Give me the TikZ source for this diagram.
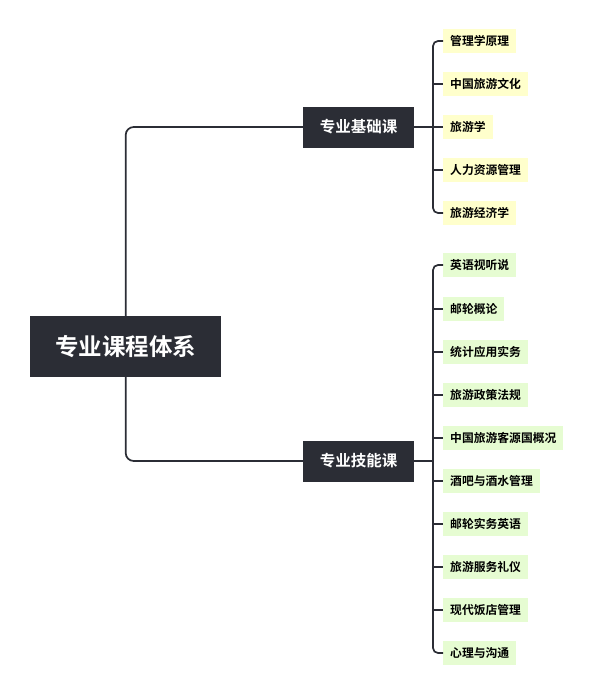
\documentclass[tikz,border=0pt]{standalone}
\usepackage{fontspec}
\newfontfamily\cjk{Noto Sans CJK SC}[BoldFont={Noto Sans CJK SC Bold}]
\begin{document}
\begin{tikzpicture}[x=1pt,y=-1pt,
  darkbox/.style={fill=dark,draw=none,text=white,font=\cjk\bfseries,inner sep=0pt,anchor=west},
  rootbox/.style={darkbox,minimum width=191pt,minimum height=61pt,font=\cjk\bfseries\fontsize{23.5}{26}\selectfont},
  branchbox/.style={darkbox,minimum width=111pt,minimum height=41pt,font=\cjk\bfseries\fontsize{15.5}{18}\selectfont},
  leafbox/.style={draw=none,inner xsep=7pt,inner ysep=0pt,minimum height=24pt,anchor=west,text=black,font=\cjk\bfseries\fontsize{11.8}{14}\selectfont},
  yleaf/.style={leafbox,fill=leafyellow},
  gleaf/.style={leafbox,fill=leafgreen},
  conn/.style={draw=dark,line width=1.7pt,rounded corners=8pt},
  stub/.style={draw=dark,line width=1.7pt,rounded corners=5pt}]
\definecolor{dark}{HTML}{2B2D35}
\definecolor{leafyellow}{HTML}{FFFFCC}
\definecolor{leafgreen}{HTML}{E6FCD2}
\useasboundingbox (0,0) rectangle (600,699);
\node[rootbox] (root) at (30,346.5) {专业课程体系};
\node[branchbox] (b1) at (303,127) {专业基础课};
\node[branchbox] (b2) at (303,461) {专业技能课};
% leaves group 1
\node[yleaf] (a1) at (443,41) {管理学原理};
\node[yleaf] (a2) at (443,84) {中国旅游文化};
\node[yleaf] (a3) at (443,127) {旅游学};
\node[yleaf] (a4) at (443,170) {人力资源管理};
\node[yleaf] (a5) at (443,213) {旅游经济学};
% leaves group 2
\node[gleaf] (c1) at (443,265) {英语视听说};
\node[gleaf] (c2) at (443,309) {邮轮概论};
\node[gleaf] (c3) at (443,352) {统计应用实务};
\node[gleaf] (c4) at (443,395) {旅游政策法规};
\node[gleaf] (c5) at (443,438) {中国旅游客源国概况};
\node[gleaf] (c6) at (443,481) {酒吧与酒水管理};
\node[gleaf] (c7) at (443,524) {邮轮实务英语};
\node[gleaf] (c8) at (443,567) {旅游服务礼仪};
\node[gleaf] (c9) at (443,610) {现代饭店管理};
\node[gleaf] (c10) at (443,653) {心理与沟通};
% root connectors
\draw[conn] (root.north) |- (b1.west);
\draw[conn] (root.south) |- (b2.west);
% group 1
\coordinate (j1) at (433,127);
\draw[conn] (b1.east) -- (j1);
\draw[stub] (a1.west) -| (j1) |- (a5.west);
\foreach \n in {a2,a3,a4} \draw[stub] (j1 |- \n.west) -- (\n.west);
% group 2
\coordinate (j2) at (433,461);
\draw[conn] (b2.east) -- (j2);
\draw[stub] (c1.west) -| (j2) |- (c10.west);
\foreach \n in {c2,c3,c4,c5,c6,c7,c8,c9} \draw[stub] (j2 |- \n.west) -- (\n.west);
\end{tikzpicture}
\end{document}
